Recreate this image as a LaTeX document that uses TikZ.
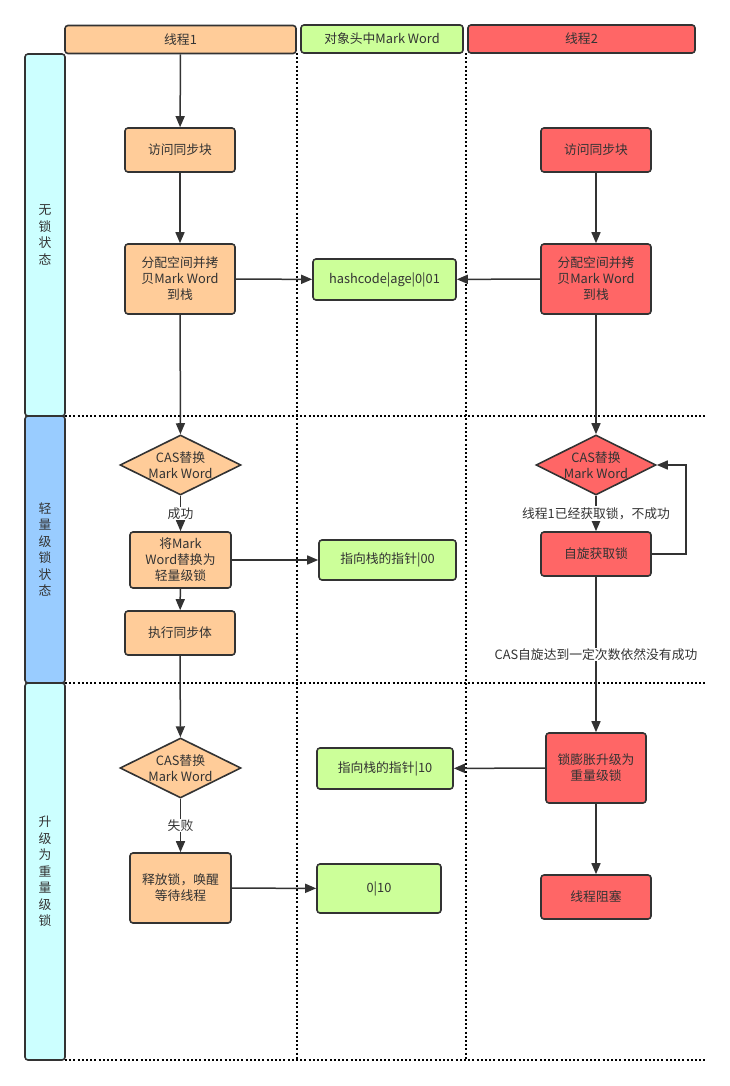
\documentclass[tikz,border=0pt]{standalone}
\usepackage{fontspec}
\setmainfont{Noto Sans CJK SC}
\usetikzlibrary{shapes.geometric,arrows.meta}

\definecolor{edge}{HTML}{333333}
\definecolor{txt}{HTML}{333333}
\definecolor{orng}{HTML}{FFCC99}
\definecolor{grn}{HTML}{CCFF99}
\definecolor{rd}{HTML}{FF6666}
\definecolor{cyn}{HTML}{CCFFFF}
\definecolor{blu}{HTML}{99CCFF}

\newcommand{\lf}{\fontsize{12.8}{16}\selectfont}

\tikzset{
  x=1pt, y=-1pt,
  base/.style={draw=edge, line width=1.6pt, rounded corners=3pt, align=center,
               inner sep=1pt, text=txt, font=\lf},
  hdr/.style={base, minimum height=28pt},
  lane/.style={base, minimum width=40pt, font=\fontsize{12.8}{16.5}\selectfont},
  box/.style={base, minimum width=110pt, minimum height=44pt},
  dia/.style={draw=edge, line width=1.6pt, diamond, minimum width=121pt,
              minimum height=60pt, inner sep=0pt},
  dtext/.style={align=center, text=txt, font=\lf},
  arr/.style={draw=edge, line width=1.5pt, -{Triangle[length=11pt,width=9pt]}},
  lbl/.style={fill=white, text=txt, font=\lf, inner sep=1pt},
  dotline/.style={draw=black, line width=1.2pt, dash pattern=on 2pt off 2.2pt},
}

\begin{document}
\begin{tikzpicture}
\useasboundingbox (0,0) rectangle (730,1086);

% swimlane separators
\draw[dotline] (297,53) -- (297,1060);
\draw[dotline] (466,53) -- (466,1060);
\draw[dotline] (65,416) -- (705,416);
\draw[dotline] (65,683) -- (705,683);
\draw[dotline] (65,1060) -- (705,1060);

% column headers
\node[hdr, fill=orng, minimum width=231pt] (h1) at (180.5,39.5) {线程1};
\node[hdr, fill=grn, minimum width=162pt] (h0) at (382,39) {对象头中Mark Word};
\node[hdr, fill=rd, minimum width=227pt] (h2) at (581.5,39) {线程2};

% state lanes
\node[lane, fill=cyn, minimum height=362pt] (l1) at (45,235) {无\\锁\\状\\态};
\node[lane, fill=blu, minimum height=267pt] (l2) at (45,549.5) {轻\\量\\级\\锁\\状\\态};
\node[lane, fill=cyn, minimum height=377pt] (l3) at (45,871.5) {升\\级\\为\\重\\量\\级\\锁};

% thread 1
\node[box, fill=orng] (a1) at (180,150) {访问同步块};
\node[box, fill=orng, minimum height=70pt] (b1) at (180,279) {分配空间并拷\\贝Mark Word\\到栈};
\node[dia, fill=orng, label={[dtext]center:CAS替换\\Mark Word}] (d1) at (180.5,465) {};
\node[box, fill=orng, minimum width=101pt, minimum height=56pt] (c1) at (180.5,560) {将Mark\\Word替换为\\轻量级锁};
\node[box, fill=orng] (e1) at (180,633) {执行同步体};
\node[dia, fill=orng, label={[dtext]center:CAS替换\\Mark Word}] (d3) at (180.5,768) {};
\node[box, fill=orng, minimum width=101pt, minimum height=70pt] (r1) at (180.5,888) {释放锁，唤醒\\等待线程};

% mark word states
\node[box, fill=grn, minimum width=143pt, minimum height=41pt] (hc) at (384.5,279.5) {hashcode|age|0|01};
\node[box, fill=grn, minimum width=137pt, minimum height=40pt] (p00) at (387.5,560) {指向栈的指针|00};
\node[box, fill=grn, minimum width=136pt, minimum height=41pt] (p10) at (385,768.5) {指向栈的指针|10};
\node[box, fill=grn, minimum width=124pt, minimum height=49pt] (z10) at (379,888.5) {0|10};

% thread 2
\node[box, fill=rd] (a2) at (596,150) {访问同步块};
\node[box, fill=rd, minimum height=70pt] (b2) at (596,279) {分配空间并拷\\贝Mark Word\\到栈};
\node[dia, fill=rd, minimum width=120pt, label={[dtext]center:CAS替换\\Mark Word}] (d2) at (596,465) {};
\node[box, fill=rd] (s2) at (596,554) {自旋获取锁};
\node[box, fill=rd, minimum width=100pt, minimum height=70pt] (f2) at (596,768) {锁膨胀升级为\\重量级锁};
\node[box, fill=rd] (g2) at (596,897) {线程阻塞};
\coordinate (loop) at (686,554);

% connectors, thread 1
\draw[arr] (h1) -- (a1);
\draw[arr] (a1) -- (b1);
\draw[arr] (b1) -- (hc);
\draw[arr] (b1) -- (d1);
\draw[arr] (d1) -- node[lbl] {成功} (c1);
\draw[arr] (c1) -- (p00);
\draw[arr] (c1) -- (e1);
\draw[arr] (e1) -- (d3);
\draw[arr] (d3) -- node[lbl] {失败} (r1);
\draw[arr] (r1) -- (z10);

% connectors, thread 2
\draw[arr] (a2) -- (b2);
\draw[arr] (b2) -- (hc);
\draw[arr] (b2) -- (d2);
\draw[arr] (d2) -- node[lbl] {线程1已经获取锁，不成功} (s2);
\draw[arr] (s2.east) -- (loop) |- (d2.east);
\draw[arr] (s2) -- node[lbl] {CAS自旋达到一定次数依然没有成功} (f2);
\draw[arr] (f2) -- (p10);
\draw[arr] (f2) -- (g2);
\end{tikzpicture}
\end{document}
